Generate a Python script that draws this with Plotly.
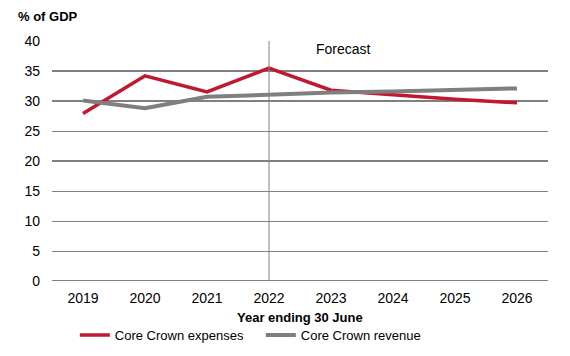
import plotly.graph_objects as go

years = ["2019", "2020", "2021", "2022", "2023", "2024", "2025", "2026"]
expenses = [27.9, 34.2, 31.5, 35.5, 31.8, 31.0, 30.3, 29.7]
revenue = [30.1, 28.8, 30.7, 31.1, 31.4, 31.6, 31.9, 32.1]
y_ticks = [0, 5, 10, 15, 20, 25, 30, 35, 40]
dark_grid = [0, 20, 30, 35]
forecast_index = 3

font = "Liberation Sans, Arial, sans-serif"
fig = go.Figure()
fig.add_trace(go.Scatter(x=years, y=expenses, mode="lines", name="Core Crown expenses",
                         line=dict(color="#C0182D", width=3.5)))
fig.add_trace(go.Scatter(x=years, y=revenue, mode="lines", name="Core Crown revenue",
                         line=dict(color="#7F7F7F", width=4)))

shapes = []
for v in dark_grid:
    shapes.append(dict(type="line", xref="paper", x0=0, x1=1, yref="y", y0=v, y1=v,
                       line=dict(color="#000000", width=1), layer="below"))
shapes.append(dict(type="line", xref="x", x0=forecast_index, x1=forecast_index,
                   yref="y", y0=0, y1=40, line=dict(color="#808080", width=1), layer="above"))

fig.update_layout(
    width=562, height=348,
    margin=dict(l=44, r=22, t=33, b=75, autoexpand=False),
    paper_bgcolor="white", plot_bgcolor="white",
    font=dict(family=font, size=14, color="#000000"),
    shapes=shapes,
    showlegend=True,
    legend=dict(orientation="h", x=0.046, xanchor="left", yref="container", y=0.06,
                yanchor="middle", font=dict(size=13), entrywidth=141, itemwidth=30),
    annotations=[
        dict(text="<b>% of GDP</b>", xref="paper", yref="paper", x=-0.0725, y=1.1,
             xanchor="left", yanchor="middle", showarrow=False,
             font=dict(size=13, family=font, color="#000000")),
        dict(text="Forecast", xref="x", yref="y", x=4.2, y=38.7, xanchor="center",
             yanchor="middle", showarrow=False, font=dict(size=14, family=font)),
        dict(text="<b>Year ending 30 June</b>", xref="paper", yref="paper", x=0.5, y=-0.154,
             xanchor="center", yanchor="middle", showarrow=False,
             font=dict(size=13, family=font, color="#000000")),
    ],
)
fig.update_xaxes(type="category", categoryorder="array", categoryarray=years,
                 range=[-0.5, 7.5], showgrid=False, showline=False, ticks="",
                 tickfont=dict(size=14), ticklabelstandoff=7, automargin=False)
fig.update_yaxes(range=[0, 40], tickvals=y_ticks, showgrid=True, gridcolor="#808080",
                 gridwidth=1, zeroline=False, showline=False, ticks="", automargin=False,
                 tickfont=dict(size=14), ticklabelstandoff=11)
fig.write_html("out.html")
